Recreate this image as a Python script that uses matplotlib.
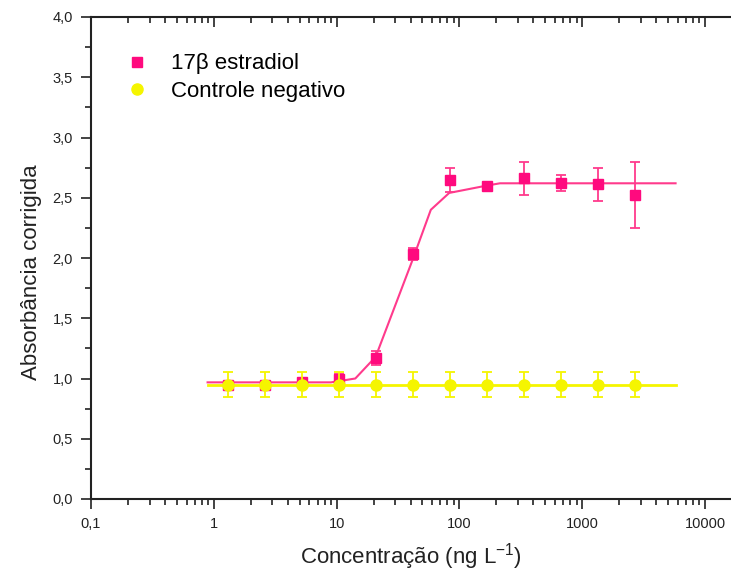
import matplotlib
matplotlib.use("Agg")
import matplotlib.pyplot as plt
from matplotlib.ticker import FixedLocator, FuncFormatter, LogLocator, NullFormatter

plt.rcParams['font.family'] = ['Liberation Sans', 'DejaVu Sans']
plt.rcParams['mathtext.fontset'] = 'custom'
plt.rcParams['mathtext.rm'] = 'Liberation Sans'
plt.rcParams['mathtext.it'] = 'Liberation Sans'

# concentration (ng/L), serial dilution
conc = [1.3, 2.6, 5.2, 10.4, 20.8, 41.7, 83.3, 166.7, 333, 667, 1333, 2667]

# 17b estradiol
e2_y = [0.95, 0.95, 0.97, 1.00, 1.17, 2.03, 2.65, 2.60, 2.66, 2.62, 2.61, 2.52]
e2_err = [0.02, 0.02, 0.02, 0.04, 0.055, 0.05, 0.10, 0.02, 0.14, 0.065, 0.135, 0.275]

# negative control
neg_y = [0.95] * 12
neg_err = [0.10] * 12

# fitted curves (as drawn)
fit_x = [0.89, 9.0, 14.2, 20.8, 41.4, 58.5, 82.6, 165, 214, 5760]
fit_y = [0.968, 0.968, 1.00, 1.18, 1.98, 2.40, 2.54, 2.60, 2.62, 2.62]
negfit_x = [0.89, 5760]
negfit_y = [0.95, 0.95]

pink = '#FF0A7E'
pink_line = '#FF3A8C'
yellow = '#F5F500'
dark = '#222222'

fig = plt.figure(figsize=(7.31, 5.76), dpi=100)
ax = fig.add_axes([91 / 731, 1 - 499 / 576, 639 / 731, 482 / 576])

ax.plot(fit_x, fit_y, color=pink_line, lw=1.5, zorder=2)
ax.errorbar(conc, e2_y, yerr=e2_err, fmt='none', ecolor=pink_line,
            elinewidth=1.3, capsize=3.5, capthick=1.3, zorder=3)
ax.plot(conc, e2_y, 's', color=pink, ms=7.5, label='17β estradiol', zorder=4)

ax.plot(negfit_x, negfit_y, color=yellow, lw=2, zorder=5)
ax.errorbar(conc, neg_y, yerr=neg_err, fmt='none', ecolor=yellow,
            elinewidth=1.3, capsize=3.5, capthick=1.3, zorder=5)
ax.plot(conc, neg_y, 'o', color=yellow, ms=8, label='Controle negativo', zorder=6)

xmax = 10 ** (4 + 25 / 122.8)
ax.set_xscale('log')
ax.set_xlim(0.1, xmax)
ax.set_ylim(0, 4.0)

ax.xaxis.set_major_locator(FixedLocator([0.1, 1, 10, 100, 1000, 10000]))
ax.xaxis.set_major_formatter(FuncFormatter(lambda v, p: ('%g' % v).replace('.', ',')))
ax.xaxis.set_minor_locator(LogLocator(base=10, subs=range(2, 10)))
ax.xaxis.set_minor_formatter(NullFormatter())

ax.yaxis.set_major_locator(FixedLocator([i * 0.5 for i in range(9)]))
ax.yaxis.set_minor_locator(FixedLocator([0.25 + i * 0.5 for i in range(8)]))
ax.yaxis.set_major_formatter(FuncFormatter(lambda v, p: ('%.1f' % v).replace('.', ',')))

ax.spines['right'].set_visible(False)
ax.spines['top'].set_visible(False)
for s in ['left', 'bottom']:
    ax.spines[s].set_linewidth(1.5)
    ax.spines[s].set_color(dark)

ax.tick_params(axis='x', which='both', direction='out', top=False,
               labelsize=10.5, colors=dark, width=1.2, pad=6)
ax.tick_params(axis='x', which='major', length=7)
ax.tick_params(axis='x', which='minor', length=4)
ax.tick_params(axis='y', which='both', direction='out', right=False,
               labelsize=10.5, colors=dark, width=1.2, pad=6)
ax.tick_params(axis='y', which='major', length=7)
ax.tick_params(axis='y', which='minor', length=4)

# top axis: ticks pointing into the plot, no labels
top = ax.twiny()
top.set_xscale('log')
top.set_xlim(0.1, xmax)
top.xaxis.set_major_locator(FixedLocator([0.1, 1, 10, 100, 1000, 10000]))
top.xaxis.set_minor_locator(LogLocator(base=10, subs=range(2, 10)))
top.xaxis.set_major_formatter(NullFormatter())
top.xaxis.set_minor_formatter(NullFormatter())
top.tick_params(axis='x', which='both', direction='in', colors=dark, width=1.2)
top.tick_params(axis='x', which='major', length=7)
top.tick_params(axis='x', which='minor', length=4)
for s in ['left', 'right', 'bottom']:
    top.spines[s].set_visible(False)
top.spines['top'].set_linewidth(1.5)
top.spines['top'].set_color(dark)

ax.set_xlabel('Concentração (ng L$^{-1}$)', fontsize=16, color=dark, labelpad=7)
ax.set_ylabel('Absorbância corrigida', fontsize=16, color=dark)
ax.yaxis.set_label_coords(-0.077, 0.47)

ax.legend(loc='upper left', bbox_to_anchor=(0.024, 0.966), frameon=False,
          fontsize=16, handlelength=1.0, handletextpad=1.0, labelspacing=0.3,
          numpoints=1)

fig.savefig('out.png', dpi=100)
